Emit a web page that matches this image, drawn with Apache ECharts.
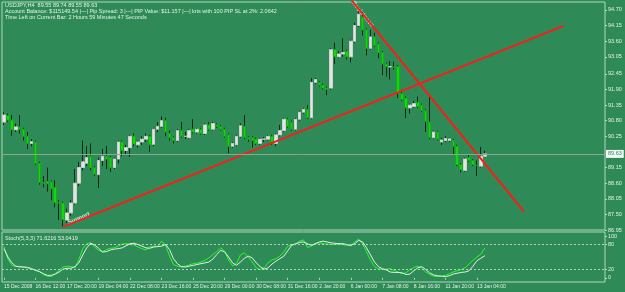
<!DOCTYPE html>
<html>
<head>
<meta charset="utf-8">
<title>USDJPY,H4</title>
<script src="https://cdn.jsdelivr.net/npm/echarts@6/dist/echarts.min.js"></script>
<style>
  html, body { margin: 0; padding: 0; background: #2e8b57; }
  #chart { width: 625px; height: 292px; }
</style>
</head>
<body>
<div id="chart"></div>
<script>
// H4 bars, 15 Dec 2008 .. 13 Jan 2009 (MT4 screenshot)
const opens = [90.75,90.98,90.82,90.48,90.58,90.50,90.25,90.00,90.05,89.30,
  88.62,88.66,88.65,88.45,87.92,87.90,87.30,87.55,87.90,88.60,
  89.15,89.30,89.55,89.15,88.90,89.40,89.55,89.50,89.15,89.45,
  90.05,89.75,89.85,90.25,89.95,90.05,90.15,90.25,89.97,90.50,
  90.60,90.80,90.35,90.20,90.10,90.45,90.25,90.20,90.50,90.40,
  90.50,90.35,90.65,90.50,90.65,90.60,90.50,90.30,89.90,89.95,
  90.25,90.60,90.20,90.20,90.15,90.00,90.15,90.15,90.25,90.00,
  90.30,90.45,90.85,90.75,90.50,90.85,91.10,91.20,90.90,92.15,
  92.15,92.05,91.95,91.95,93.30,93.05,93.15,93.25,93.05,93.60,
  94.15,94.45,94.00,93.35,93.75,93.50,93.20,92.80,92.70,92.68,
  92.70,91.75,91.60,91.25,91.30,91.45,91.35,91.15,90.75,90.20,
  90.40,90.05,90.10,90.10,90.10,89.90,89.25,89.05,89.50,89.40,
  89.22,89.20,89.55];
const closes = [91.00,90.82,90.48,90.58,90.50,90.25,90.00,90.06,89.30,88.62,
  88.60,88.58,88.40,87.92,87.90,87.32,87.55,87.90,88.60,89.15,
  89.35,89.50,89.15,88.92,89.40,89.55,89.45,89.15,89.45,90.05,
  89.75,89.85,90.25,89.98,90.05,90.15,90.25,89.95,90.50,90.60,
  90.80,90.40,90.20,90.10,90.45,90.25,90.25,90.45,90.40,90.50,
  90.35,90.65,90.50,90.70,90.60,90.50,90.25,89.90,90.00,90.25,
  90.62,90.20,90.15,90.10,90.00,90.15,90.15,90.25,90.05,90.30,
  90.45,90.85,90.60,90.50,90.85,91.10,91.20,90.90,92.15,92.25,
  92.05,91.95,91.90,93.30,93.05,93.15,93.20,93.05,93.60,94.15,
  94.55,94.00,93.35,93.75,93.45,93.20,92.80,92.70,92.70,92.68,
  91.78,91.55,91.25,91.35,91.40,91.30,91.15,90.78,90.20,90.40,
  90.15,90.12,90.17,90.16,89.90,89.25,89.08,89.45,89.40,89.25,
  89.22,89.55,89.63];
const lows = [90.65,90.75,90.27,90.40,90.35,90.10,89.80,89.90,89.25,88.55,
  88.45,88.30,88.00,87.75,87.30,87.08,87.20,87.45,87.85,88.50,
  89.05,89.20,89.05,88.85,88.43,89.20,89.10,89.00,89.10,89.30,
  89.55,89.60,89.52,89.90,89.85,89.95,90.05,89.70,89.90,90.40,
  90.55,90.25,90.10,90.00,90.05,90.20,90.15,90.15,90.35,90.35,
  90.30,90.30,90.45,90.45,90.55,90.45,90.20,89.65,89.85,89.90,
  90.20,90.15,90.05,89.85,89.95,89.95,90.05,90.10,89.95,89.90,
  90.25,90.40,90.55,90.45,90.45,90.80,91.05,90.85,90.85,92.10,
  92.00,91.90,91.70,91.90,92.80,93.00,93.05,92.95,92.85,93.55,
  94.10,93.80,93.10,93.30,93.40,93.00,92.40,92.35,92.25,92.60,
  91.60,91.50,90.90,91.05,91.25,91.25,91.10,90.40,90.15,90.15,
  90.10,89.95,90.05,90.05,89.60,89.20,88.97,89.00,89.35,89.20,
  88.85,89.15,89.55];
const highs = [91.10,91.05,91.00,90.70,91.00,90.55,90.40,90.15,90.10,89.35,
  88.85,89.15,88.70,88.70,88.00,87.95,87.70,88.00,89.10,89.35,
  90.10,89.90,90.00,89.20,89.50,89.80,89.90,89.55,89.50,90.10,
  90.10,89.95,90.30,90.35,90.10,90.25,90.35,90.30,90.55,90.75,
  90.95,90.90,90.45,90.25,90.50,90.75,90.40,90.50,90.85,90.55,
  90.55,90.70,90.75,90.75,90.70,90.65,90.55,90.35,90.05,90.30,
  90.70,91.00,90.25,90.25,90.20,90.20,90.22,90.30,90.30,90.35,
  90.65,90.90,90.90,90.80,90.90,91.15,91.25,91.35,92.30,92.30,
  92.20,92.10,92.00,93.35,93.55,93.25,93.70,93.30,93.65,94.25,
  94.65,94.62,94.05,94.00,93.90,93.55,93.25,92.85,92.90,92.88,
  92.75,91.85,91.65,91.40,91.50,91.65,91.40,91.20,91.70,90.45,
  90.45,90.20,90.25,90.20,90.15,89.95,89.30,89.50,89.60,89.45,
  89.40,89.88,89.74];

// Stochastic(5,3,3)
const stochMain = [75,45,30,27,28,26,24,22,18,15,
  8,4,3,10,18,26,28,27,24,44,
  70,82,84,74,66,63,68,71,72,76,
  81,82,81,79,74,70,67,74,76,75,
  88,79,52,32,28,26,28,31,34,35,
  38,42,48,56,63,72,64,42,29,34,
  55,60,50,38,24,20,24,36,43,46,
  52,62,76,79,80,88,91,73,76,82,
  84,82,81,80,80,81,80,78,77,86,
  93,82,62,42,27,22,20,21,22,18,
  14,10,12,20,25,28,23,14,8,4,
  3,4,6,10,14,17,20,24,33,42,
  50,57,71.62];
const stochSignal = [70,50,36,28,26,26,25,22,18,15,
  10,6,6,9,14,21,23,23,27,36,
  55,72,83,79,71,62,63,67,69,70,
  72,77,82,83,80,76,72,71,74,75,
  76,80,68,46,34,27,26,28,30,32,
  34,36,38,45,56,66,62,50,36,30,
  38,47,52,48,36,27,21,24,33,40,
  46,52,65,78,82,85,86,82,78,82,
  86,88,86,84,83,82,82,80,78,82,
  90,86,72,55,38,27,22,19,14,13,
  13,12,8,9,17,24,27,20,12,7,
  5,4,3,5,9,11,13,14,17,28,
  41,47,53.04];

// one label every 8 bars
const tickLabels = ['15 Dec 2008','16 Dec 12:00','17 Dec 20:00','19 Dec 04:00','22 Dec 08:00',
  '23 Dec 16:00','25 Dec 20:00','29 Dec 00:00','30 Dec 08:00','31 Dec 16:00',
  '2 Jan 20:00','6 Jan 00:00','7 Jan 08:00','8 Jan 16:00','11 Jan 20:00','13 Jan 04:00'];
const priceLabels = [86.95,87.50,88.05,88.60,89.15,90.25,90.80,91.35,91.90,92.45,93.05,93.60,94.15,94.70];
const stochLabels = [0,20,80,100];
const bidPrice = 89.63;

// trend lines: [bar index, price]
const supportLine = [[15, 87.06], [142, 94.14]];
const resistanceLine = [[88, 95.07], [132, 87.59]];

const slots = 153; // chart shift leaves empty room on the right
const cats = Array.from({ length: slots }, (_, i) => i);

const candles = opens.map((o, i) => [o, closes[i], lows[i], highs[i]]);
const bodies = opens.map((o, i) => [o, closes[i], Math.min(o, closes[i]), Math.max(o, closes[i])]);

const txt = '#e6f2e6';
const frame = '#b4d6bc';
const font = 'Liberation Sans';
const showTick = (idx) => idx % 8 === 0 && idx / 8 < tickLabels.length;

const chart = echarts.init(document.getElementById('chart'), null, { renderer: 'canvas' });

chart.setOption({
  animation: false,
  backgroundColor: '#2e8b57',
  textStyle: { fontFamily: font },
  grid: [
    { left: 2, top: 2, width: 603, height: 228, show: true, borderColor: frame, borderWidth: 1 },
    { left: 2, top: 232, width: 603, height: 50, show: true, borderColor: frame, borderWidth: 1 }
  ],
  xAxis: [
    { type: 'category', gridIndex: 0, data: cats, boundaryGap: true,
      axisLine: { show: false }, axisTick: { show: false }, axisLabel: { show: false } },
    { type: 'category', gridIndex: 1, data: cats, boundaryGap: true,
      axisLine: { show: false },
      axisTick: { show: true, interval: showTick, alignWithLabel: true, length: 2, lineStyle: { color: frame } },
      axisLabel: {
        interval: showTick, align: 'left', margin: 2, color: txt, fontSize: 5, fontFamily: font,
        formatter: (v, idx) => tickLabels[idx / 8] || ''
      } }
  ],
  yAxis: [
    { type: 'value', gridIndex: 0, position: 'right', min: 86.95, max: 94.98,
      splitLine: { show: false },
      axisLine: { show: false },
      axisTick: { show: true, length: 2, customValues: priceLabels, lineStyle: { color: frame } },
      axisLabel: { customValues: priceLabels, color: txt, fontSize: 5.5, margin: 3,
        formatter: (v) => v.toFixed(2) } },
    { type: 'value', gridIndex: 1, position: 'right', min: -10, max: 110,
      splitLine: { show: false },
      axisLine: { show: false },
      axisTick: { show: true, length: 2, customValues: stochLabels, lineStyle: { color: frame } },
      axisLabel: { customValues: stochLabels, color: txt, fontSize: 5.5, margin: 3 } }
  ],
  series: [
    // wicks
    { type: 'candlestick', xAxisIndex: 0, yAxisIndex: 0, data: candles, barWidth: 1,
      itemStyle: { color: '#0b2a12', color0: '#0b2a12', borderColor: '#0b2a12', borderColor0: '#0b2a12', borderWidth: 1 },
      markLine: {
        silent: true, symbol: ['none', 'none'],
        lineStyle: { color: '#8fa396', width: 1, type: 'solid' },
        label: { position: 'end', distance: 1, formatter: bidPrice.toFixed(2), color: '#2e8b57',
          backgroundColor: '#f4f8f4', padding: [1, 2], fontSize: 5.5 },
        data: [{ yAxis: bidPrice }]
      } },
    // bodies
    { type: 'candlestick', xAxisIndex: 0, yAxisIndex: 0, data: bodies, barWidth: 3,
      itemStyle: { color: '#e4e4e4', color0: '#14d414', borderColor: '#d0d0d0', borderColor0: '#0fb00f', borderWidth: 1 } },
    { type: 'line', xAxisIndex: 0, yAxisIndex: 0, data: supportLine,
      lineStyle: { color: '#ff1a1a', width: 2 }, itemStyle: { color: '#ff1a1a' },
      symbol: 'rect', symbolSize: 4, showSymbol: true },
    { type: 'line', xAxisIndex: 0, yAxisIndex: 0, data: resistanceLine,
      lineStyle: { color: '#ff1a1a', width: 2 }, itemStyle: { color: '#ff1a1a' },
      symbol: 'rect', symbolSize: 3, showSymbol: true },
    { type: 'line', xAxisIndex: 1, yAxisIndex: 1, data: stochMain, showSymbol: false,
      lineStyle: { color: '#22ff22', width: 1 },
      markLine: {
        silent: true, symbol: ['none', 'none'],
        lineStyle: { color: '#b9cfbf', width: 1, type: [2, 2] },
        label: { show: false },
        data: [{ yAxis: 80 }, { yAxis: 20 }]
      } },
    { type: 'line', xAxisIndex: 1, yAxisIndex: 1, data: stochSignal, showSymbol: false,
      lineStyle: { color: '#e8eee8', width: 1 } }
  ],
  graphic: [
    { type: 'text', left: 5, top: 2, style: { text: 'USDJPY,H4  89.55 89.74 89.55 89.63', fill: txt, font: '5.5px ' + font } },
    { type: 'text', left: 5, top: 8, style: { text: 'Account Balance: $115149.54 |---| Pip Spread: 3 |---| PIP Value: $11.157 |---| lots with 100 PIP SL at 2%: 2.0642', fill: txt, font: '5.5px ' + font } },
    { type: 'text', left: 5, top: 14, style: { text: 'Time Left on Current Bar: 2 Hours 59 Minutes 47 Seconds', fill: txt, font: '5.5px ' + font } },
    { type: 'text', left: 5, top: 235, style: { text: 'Stoch(5,3,3) 71.6216 53.0419', fill: txt, font: '5.5px ' + font } },
    { type: 'text', x: 67, y: 220, rotation: 0.4, style: { text: 'Support', fill: '#d4e4d8', font: 'bold 6px ' + font } },
    { type: 'text', x: 355, y: 0, rotation: -0.88, style: { text: 'Resistance', fill: '#d4e4d8', font: 'bold 6px ' + font } }
  ]
});
</script>
</body>
</html>
